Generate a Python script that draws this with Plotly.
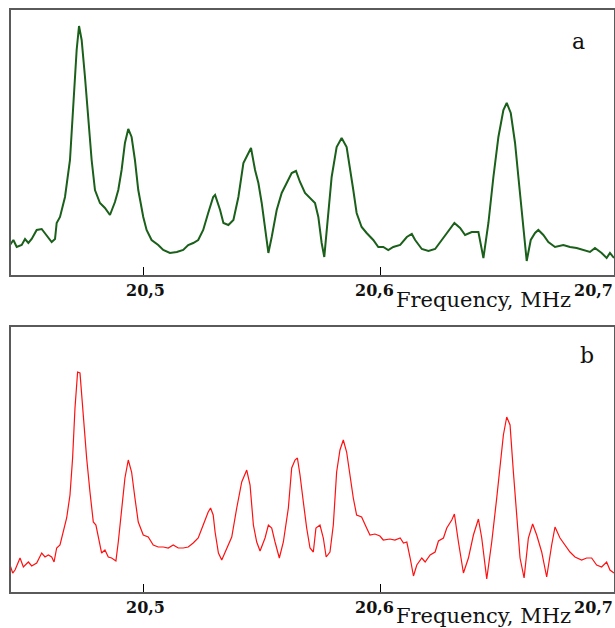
import plotly.graph_objects as go

# ---- Panel a (green spectrum) ----
freq_a = [20.4441, 20.4455, 20.4469, 20.4490, 20.4504, 20.4518, 20.4532, 20.4553, 20.4574, 20.4595,
          20.4616, 20.4630, 20.4637, 20.4651, 20.4672, 20.4693, 20.4707, 20.4721, 20.4731, 20.4742,
          20.4756, 20.4770, 20.4784, 20.4798, 20.4819, 20.4840, 20.4861, 20.4882, 20.4896, 20.4910,
          20.4924, 20.4938, 20.4952, 20.4966, 20.4980, 20.5001, 20.5015, 20.5036, 20.5064, 20.5085,
          20.5113, 20.5142, 20.5169, 20.5190, 20.5211, 20.5232, 20.5253, 20.5274, 20.5295, 20.5303,
          20.5324, 20.5338, 20.5359, 20.5380, 20.5401, 20.5422, 20.5443, 20.5454, 20.5471, 20.5485,
          20.5499, 20.5513, 20.5527, 20.5541, 20.5562, 20.5583, 20.5604, 20.5625, 20.5643, 20.5660,
          20.5681, 20.5702, 20.5723, 20.5737, 20.5751, 20.5762, 20.5779, 20.5793, 20.5814, 20.5835,
          20.5856, 20.5870, 20.5884, 20.5898, 20.5919, 20.5940, 20.5968, 20.5989, 20.6010, 20.6031,
          20.6052, 20.6081, 20.6109, 20.6130, 20.6144, 20.6172, 20.6200, 20.6228, 20.6256, 20.6284,
          20.6309, 20.6333, 20.6354, 20.6382, 20.6410, 20.6431, 20.6452, 20.6473, 20.6494, 20.6515,
          20.6529, 20.6546, 20.6564, 20.6578, 20.6592, 20.6606, 20.6613, 20.6630, 20.6648, 20.6662,
          20.6683, 20.6704, 20.6732, 20.6767, 20.6795, 20.6823, 20.6851, 20.6879, 20.6900, 20.6928,
          20.6949, 20.6963, 20.6980]
signal_a = [30, 35, 28, 30, 36, 32, 36, 45, 46, 40,
            33, 36, 52, 58, 78, 115, 165, 225, 249, 235,
            198, 155, 115, 85, 72, 67, 60, 73, 85, 105,
            132, 146, 138, 115, 85, 58, 45, 35, 30, 25,
            22, 23, 25, 30, 32, 35, 45, 62, 78, 80,
            65, 52, 50, 55, 78, 112, 123, 127, 105, 92,
            72, 48, 22, 38, 65, 82, 92, 102, 104, 93,
            82, 77, 72, 58, 32, 18, 58, 98, 128, 137,
            128, 108, 85, 62, 48, 42, 35, 28, 28, 25,
            28, 30, 38, 41, 35, 26, 24, 26, 35, 43,
            52, 47, 40, 43, 43, 17, 52, 98, 138, 165,
            172, 162, 132, 98, 65, 32, 14, 35, 42, 45,
            40, 33, 28, 30, 28, 27, 25, 23, 27, 22,
            17, 22, 17]

# ---- Panel b (red spectrum) ----
freq_b = [20.4441, 20.4452, 20.4462, 20.4476, 20.4483, 20.4497, 20.4518, 20.4532, 20.4553, 20.4574,
          20.4588, 20.4602, 20.4616, 20.4626, 20.4637, 20.4651, 20.4665, 20.4679, 20.4693, 20.4704,
          20.4714, 20.4725, 20.4735, 20.4749, 20.4763, 20.4777, 20.4791, 20.4802, 20.4812, 20.4826,
          20.4840, 20.4854, 20.4868, 20.4886, 20.4896, 20.4910, 20.4924, 20.4938, 20.4952, 20.4966,
          20.4980, 20.5001, 20.5022, 20.5043, 20.5064, 20.5085, 20.5106, 20.5127, 20.5148, 20.5169,
          20.5190, 20.5211, 20.5232, 20.5253, 20.5274, 20.5284, 20.5295, 20.5303, 20.5317, 20.5331,
          20.5345, 20.5373, 20.5394, 20.5415, 20.5436, 20.5450, 20.5464, 20.5478, 20.5492, 20.5513,
          20.5527, 20.5541, 20.5555, 20.5573, 20.5590, 20.5611, 20.5625, 20.5639, 20.5649, 20.5660,
          20.5674, 20.5688, 20.5702, 20.5716, 20.5727, 20.5744, 20.5758, 20.5770, 20.5786, 20.5800,
          20.5814, 20.5828, 20.5842, 20.5856, 20.5870, 20.5884, 20.5898, 20.5919, 20.5940, 20.5954,
          20.5975, 20.5996, 20.6010, 20.6038, 20.6059, 20.6081, 20.6095, 20.6109, 20.6123, 20.6137,
          20.6151, 20.6172, 20.6186, 20.6207, 20.6228, 20.6242, 20.6263, 20.6277, 20.6298, 20.6309,
          20.6326, 20.6347, 20.6368, 20.6389, 20.6410, 20.6424, 20.6445, 20.6466, 20.6487, 20.6501,
          20.6515, 20.6529, 20.6543, 20.6557, 20.6571, 20.6585, 20.6602, 20.6620, 20.6638, 20.6655,
          20.6676, 20.6697, 20.6718, 20.6732, 20.6753, 20.6774, 20.6795, 20.6816, 20.6844, 20.6865,
          20.6886, 20.6907, 20.6928, 20.6949, 20.6963, 20.6980]
signal_b = [27, 19, 22, 30, 34, 25, 30, 26, 29, 39,
            35, 37, 35, 30, 44, 47, 60, 74, 97, 134,
            184, 220, 219, 174, 134, 100, 70, 67, 54, 39,
            42, 35, 34, 31, 50, 80, 114, 132, 120, 94,
            70, 57, 55, 47, 45, 45, 44, 47, 44, 44,
            45, 49, 54, 67, 80, 84, 77, 60, 39, 32,
            40, 55, 84, 110, 122, 107, 67, 50, 41, 54,
            67, 64, 50, 34, 50, 84, 124, 132, 134, 117,
            90, 64, 44, 40, 64, 67, 54, 35, 40, 67,
            120, 142, 152, 140, 117, 94, 77, 75, 64, 57,
            58, 56, 52, 53, 52, 54, 49, 50, 34, 16,
            27, 34, 30, 37, 40, 51, 54, 64, 72, 78,
            50, 19, 34, 57, 73, 54, 13, 50, 94, 124,
            157, 175, 167, 120, 74, 34, 14, 54, 68, 57,
            40, 15, 47, 65, 54, 47, 40, 35, 32, 34,
            34, 27, 25, 30, 22, 19]

tick_vals = [20.5, 20.6]
tick_labels = ["20,5", "20,6", "20,7"]
axis_title = "Frequency, MHz"
panel_labels = ["a", "b"]

X_RANGE = [20.4445, 20.698]
Y_RANGE = [0, 265]
SERIF = "DejaVu Serif"
BORDER = "#5a5a5a"

fig = go.Figure()
fig.add_trace(go.Scatter(x=freq_a, y=signal_a, mode="lines",
                         line=dict(color="#1a5f1a", width=2), xaxis="x", yaxis="y",
                         showlegend=False, hoverinfo="skip"))
fig.add_trace(go.Scatter(x=freq_b, y=signal_b, mode="lines",
                         line=dict(color="#ff1010", width=1.2), xaxis="x2", yaxis="y2",
                         showlegend=False, hoverinfo="skip"))

xaxis_common = dict(range=X_RANGE, showgrid=False, zeroline=False, showline=True,
                    linecolor=BORDER, linewidth=1.5, mirror=True,
                    tickmode="array", tickvals=tick_vals, ticks="inside", ticklen=8,
                    tickwidth=1, tickcolor="#000000", showticklabels=False)
yaxis_common = dict(range=Y_RANGE, showgrid=False, zeroline=False, showline=True,
                    linecolor=BORDER, linewidth=1.5, mirror=True, ticks="",
                    showticklabels=False)

fig.update_layout(
    width=615, height=628,
    margin=dict(l=11, r=1, t=10, b=36, autoexpand=False),
    paper_bgcolor="white", plot_bgcolor="white",
    xaxis=dict(**xaxis_common, anchor="y"),
    yaxis=dict(**yaxis_common, domain=[0.5447, 1.0], anchor="x"),
    xaxis2=dict(**xaxis_common, anchor="y2"),
    yaxis2=dict(**yaxis_common, domain=[0.0, 0.4553], anchor="x2"),
)

ann = []
tick_font = dict(family=SERIF, size=16, color="#111111", weight="bold")
title_font = dict(family=SERIF, size=21, color="#111111")
label_font = dict(family=SERIF, size=22, color="#111111")
for y_tick, y_title in [(0.5172, 0.5009), (-0.0258, -0.0404)]:
    ann.append(dict(text=tick_labels[0], x=0.2231, y=y_tick, xref="paper", yref="paper",
                    xanchor="center", yanchor="middle", showarrow=False, font=tick_font))
    ann.append(dict(text=tick_labels[1], x=0.6020, y=y_tick, xref="paper", yref="paper",
                    xanchor="center", yanchor="middle", showarrow=False, font=tick_font))
    ann.append(dict(text=tick_labels[2], x=1.0, y=y_tick, xref="paper", yref="paper",
                    xanchor="right", yanchor="middle", showarrow=False, font=tick_font,
                    borderpad=0))
    ann.append(dict(text=axis_title, x=0.7835, y=y_title, xref="paper", yref="paper",
                    xanchor="center", yanchor="middle", showarrow=False, font=title_font))
ann.append(dict(text=panel_labels[0], x=0.9411, y=0.9467, xref="paper", yref="paper",
                xanchor="center", yanchor="middle", showarrow=False, font=label_font))
ann.append(dict(text=panel_labels[1], x=0.9544, y=0.4055, xref="paper", yref="paper",
                xanchor="center", yanchor="middle", showarrow=False, font=label_font))
fig.update_layout(annotations=ann)

fig.write_html("out.html", config={"displayModeBar": False},
               post_script="document.body.style.margin='0';document.body.style.overflow='hidden';")
